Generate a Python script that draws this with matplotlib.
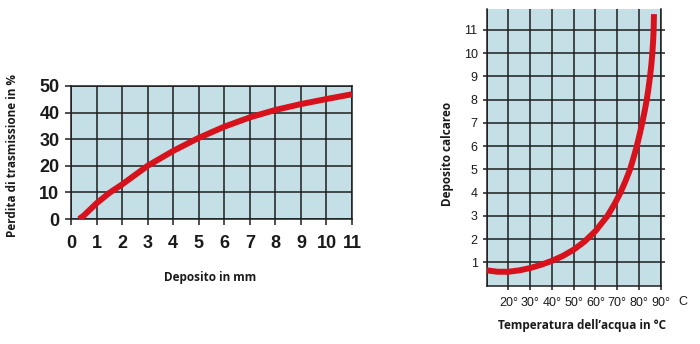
import matplotlib
matplotlib.use("Agg")
import matplotlib.pyplot as plt

# grafico sinistro: perdita di trasmissione vs deposito
deposito_mm = [0.32, 0.5, 1, 1.5, 2, 3, 4, 5, 6, 7, 8, 9, 10, 11]
perdita_pct = [0, 1.3, 5.9, 9.8, 13, 20, 25.6, 30.5, 34.7, 38.2, 41, 43.2, 45.1, 46.9]
xtick_sx = list(range(0, 12))
ytick_sx = [0, 10, 20, 30, 40, 50]

# grafico destro: deposito calcareo vs temperatura
temp_c = [10, 15, 20, 25, 30, 35, 40, 45, 50, 55, 60, 65.5, 68.7, 71.5, 73.8, 75.9,
          77.5, 79, 80.3, 81.5, 82.6, 83.6, 84.4, 85.1, 85.7, 86.15, 86.5, 86.75, 86.9]
calcare = [0.66, 0.6, 0.6, 0.66, 0.76, 0.9, 1.07, 1.28, 1.55, 1.9, 2.35, 3.0, 3.5, 4.0, 4.5, 5.0,
           5.5, 6.0, 6.5, 7.0, 7.5, 8.0, 8.5, 9.0, 9.5, 10.0, 10.5, 11.0, 11.68]
xtick_dx = [20, 30, 40, 50, 60, 70, 80, 90]
xlab_dx = ["20°", "30°", "40°", "50°", "60°", "70°", "80°", "90°"]
ytick_dx = list(range(1, 12))

sfondo = "#c4dfe6"
griglia = "#1e1e1e"
rosso = "#d8121c"
testo = "#1a1a1a"
narrow = ["Liberation Sans Narrow", "Liberation Sans"]

fig = plt.figure(figsize=(7, 3.44), dpi=100)

W, H = 700, 344
def box(x0, y0, x1, y1):
    return [x0 / W, 1 - y1 / H, (x1 - x0) / W, (y1 - y0) / H]

ax1 = fig.add_axes(box(71, 86, 352, 219))
ax1.set_facecolor(sfondo)
ax1.plot(deposito_mm, perdita_pct, color=rosso, lw=4.3, solid_capstyle="butt", zorder=3)
ax1.set_xlim(0, 11)
ax1.set_ylim(0, 50)
ax1.set_xticks(xtick_sx)
ax1.set_yticks(ytick_sx)
ax1.grid(True, color=griglia, lw=1.1)
ax1.set_axisbelow(True)
for s in ax1.spines.values():
    s.set_color(griglia)
    s.set_linewidth(1.1)
ax1.tick_params(axis="both", color=griglia, width=1.1, length=4.3)
ax1.tick_params(axis="x", pad=7)
ax1.tick_params(axis="y", pad=4)
for lab in ax1.get_xticklabels() + ax1.get_yticklabels():
    lab.set_family(narrow)
    lab.set_fontweight("bold")
    lab.set_fontsize(13)
    lab.set_color(testo)

ax2 = fig.add_axes(box(486.7, 9, 660.7, 285.7))
ax2.set_facecolor(sfondo)
ax2.plot(temp_c, calcare, color=rosso, lw=4.3, solid_capstyle="butt", zorder=3)
ax2.set_xlim(10, 90)
ax2.set_ylim(0, 11.9)
ax2.set_xticks(xtick_dx)
ax2.set_xticklabels(xlab_dx)
ax2.set_yticks(ytick_dx)
ax2.set_xticks(range(10, 91, 10), minor=True)
ax2.grid(True, which="both", color=griglia, lw=1.1)
ax2.set_axisbelow(True)
ax2.spines["top"].set_visible(False)
for s in ["left", "right", "bottom"]:
    ax2.spines[s].set_color(griglia)
    ax2.spines[s].set_linewidth(1.1)
ax2.tick_params(axis="both", color=griglia, width=1.1, length=3)
ax2.tick_params(axis="y", right=True, pad=3.5)
ax2.tick_params(axis="x", pad=5)
ax2.tick_params(which="minor", length=0)
for lab in ax2.get_xticklabels() + ax2.get_yticklabels():
    lab.set_family(narrow)
    lab.set_fontsize(9)
    lab.set_color(testo)

fig.text(683 / W, 1 - 302 / H, "C", family=narrow, fontsize=9,
         color=testo, ha="center", va="center")

# titoli assi
fig.text(13 / W, 1 - 155.5 / H, "Perdita di trasmissione in %", family="Open Sans",
         fontweight="bold", fontsize=8.5, rotation=90, ha="center", va="center", color=testo)
fig.text(210 / W, 1 - 277 / H, "Deposito in mm", family="Open Sans",
         fontweight="bold", fontsize=8.5, ha="center", va="center", color=testo)
fig.text(448 / W, 1 - 154 / H, "Deposito calcareo", family="Open Sans",
         fontweight="bold", fontsize=8.5, rotation=90, ha="center", va="center", color=testo)
fig.text(582 / W, 1 - 325 / H, "Temperatura dell’acqua in °C", family="Open Sans",
         fontweight="bold", fontsize=8.5, ha="center", va="center", color=testo)

fig.savefig("out.png", dpi=100)
